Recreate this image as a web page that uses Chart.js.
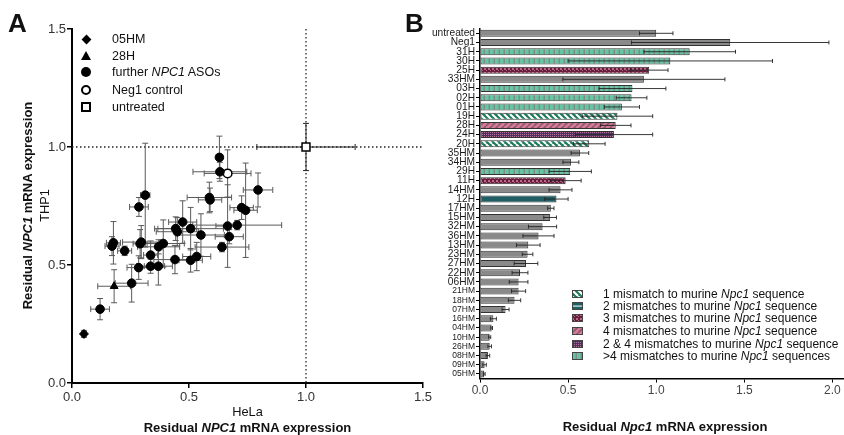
<!DOCTYPE html>
<html><head><meta charset="utf-8">
<script src="https://cdn.jsdelivr.net/npm/chart.js@4.4.0/dist/chart.umd.min.js"></script>
<style>
html,body{margin:0;padding:0;background:#fff;width:844px;height:435px;overflow:hidden;font-family:"Liberation Sans",Arial,sans-serif;}
#wrap{position:relative;width:844px;height:435px;}
canvas{position:absolute;}
.t{position:absolute;white-space:nowrap;color:#111;}
.sym{position:absolute;box-sizing:border-box;}
</style></head><body>
<div id="wrap">
<canvas id="chartA" width="440" height="435" style="left:0;top:0;width:440px;height:435px"></canvas>
<canvas id="chartB" width="424" height="435" style="left:420px;top:0;width:424px;height:435px"></canvas>

<div class="t" style="left:8px;top:10px;font:bold 26px/26px 'Liberation Sans',Arial;">A</div>
<div class="t" style="left:405px;top:10px;font:bold 26px/26px 'Liberation Sans',Arial;">B</div>

<!-- panel A legend -->
<div class="sym" style="left:83px;top:36px;width:7px;height:7px;background:#000;transform:rotate(45deg);"></div>
<div class="sym" style="left:81px;top:51px;width:0;height:0;border-left:5px solid transparent;border-right:5px solid transparent;border-bottom:9px solid #000;"></div>
<div class="sym" style="left:81px;top:67px;width:10px;height:10px;border-radius:50%;background:#000;"></div>
<div class="sym" style="left:81px;top:85px;width:10px;height:10px;border-radius:50%;border:2px solid #000;background:#fff;"></div>
<div class="sym" style="left:81px;top:102px;width:10px;height:10px;border:2px solid #000;background:#fff;"></div>
<div class="t" style="left:112px;top:33px;font:12.5px/12.5px 'Liberation Sans',Arial;">05HM</div>
<div class="t" style="left:112px;top:50px;font:12.5px/12.5px 'Liberation Sans',Arial;">28H</div>
<div class="t" style="left:112px;top:66px;font:12.5px/12.5px 'Liberation Sans',Arial;">further <i>NPC1</i> ASOs</div>
<div class="t" style="left:112px;top:83.6px;font:12.5px/12.5px 'Liberation Sans',Arial;">Neg1 control</div>
<div class="t" style="left:112px;top:101.2px;font:12.5px/12.5px 'Liberation Sans',Arial;">untreated</div>

<!-- panel A axis titles -->
<div class="t" style="left:147.5px;width:200px;text-align:center;top:405.8px;font:12.8px/12.8px 'Liberation Sans',Arial;">HeLa</div>
<div class="t" style="left:97.5px;width:300px;text-align:center;top:421.3px;font:bold 13px/13px 'Liberation Sans',Arial;">Residual <i>NPC1</i> mRNA expression</div>
<div class="t" style="left:-103px;width:260px;text-align:center;top:198.5px;font:bold 13px/13px 'Liberation Sans',Arial;transform:rotate(-90deg);">Residual <i>NPC1</i> mRNA expression</div>
<div class="t" style="left:-55.5px;width:200px;text-align:center;top:198.6px;font:12.8px/12.8px 'Liberation Sans',Arial;transform:rotate(-90deg);">THP1</div>

<!-- panel B axis title -->
<div class="t" style="left:515px;width:300px;text-align:center;top:419.7px;font:bold 13px/13px 'Liberation Sans',Arial;">Residual <i>Npc1</i> mRNA expression</div>

<!-- panel B legend -->
<canvas id="sw0" class="sw" width="11" height="8" style="left:572px;top:289.7px"></canvas>
<canvas id="sw1" class="sw" width="11" height="8" style="left:572px;top:302px"></canvas>
<canvas id="sw2" class="sw" width="11" height="8" style="left:572px;top:314px"></canvas>
<canvas id="sw3" class="sw" width="11" height="8" style="left:572px;top:327.3px"></canvas>
<canvas id="sw4" class="sw" width="11" height="8" style="left:572px;top:339.7px"></canvas>
<canvas id="sw5" class="sw" width="11" height="8" style="left:572px;top:352px"></canvas>
<div class="t" style="left:603px;top:287.8px;font:12px/12px 'Liberation Sans',Arial;">1 mismatch to murine <i>Npc1</i> sequence</div>
<div class="t" style="left:603px;top:300.1px;font:12px/12px 'Liberation Sans',Arial;">2 mismatches to murine <i>Npc1</i> sequence</div>
<div class="t" style="left:603px;top:312.1px;font:12px/12px 'Liberation Sans',Arial;">3 mismatches to murine <i>Npc1</i> sequence</div>
<div class="t" style="left:603px;top:325.4px;font:12px/12px 'Liberation Sans',Arial;">4 mismatches to murine <i>Npc1</i> sequence</div>
<div class="t" style="left:603px;top:337.8px;font:12px/12px 'Liberation Sans',Arial;">2 &amp; 4 mismatches to murine <i>Npc1</i> sequence</div>
<div class="t" style="left:603px;top:350.1px;font:12px/12px 'Liberation Sans',Arial;">&gt;4 mismatches to murine <i>Npc1</i> sequences</div>
</div>
<script>
// ---------- Panel A data ----------
const aTicks = [0, 0.5, 1.0, 1.5];
const asoHela   = [0.630,0.632,0.795,0.587,0.590,0.725,0.742,0.665,0.706,0.672,0.641,0.551,0.507,0.473,0.443,0.450,0.533,0.507,0.440,0.369,0.336,0.336,0.285,0.370,0.390,0.296,0.291,0.225,0.177,0.171,0.255,0.120,0.286,0.313];
const asoThp1   = [0.956,0.895,0.818,0.786,0.776,0.743,0.732,0.665,0.669,0.620,0.576,0.627,0.654,0.682,0.654,0.641,0.536,0.520,0.523,0.495,0.495,0.542,0.489,0.577,0.591,0.597,0.590,0.560,0.594,0.580,0.423,0.313,0.746,0.796];
const asoHelaSD = [0.012,0.115,0.063,0.095,0.050,0.050,0.050,0.050,0.190,0.060,0.115,0.100,0.140,0.060,0.090,0.090,0.060,0.050,0.090,0.060,0.060,0.030,0.050,0.090,0.090,0.080,0.030,0.030,0.030,0.030,0.070,0.040,0.040,0.020];
const asoThp1SD = [0.090,0.040,0.072,0.065,0.050,0.050,0.200,0.175,0.020,0.030,0.020,0.090,0.090,0.090,0.050,0.060,0.060,0.050,0.060,0.080,0.030,0.060,0.050,0.030,0.100,0.070,0.060,0.020,0.090,0.040,0.080,0.045,0.040,0.220];
const hm05 = [0.051, 0.208], hm05SD = [0.010, 0.015];
const h28  = [0.180, 0.410], h28SD  = [0.070, 0.070];
const neg1 = [0.665, 0.888], neg1SD = [0.100, 0.100];
const untr = [1.000, 1.000], untrSD = [0.210, 0.100];

// ---------- Panel B data ----------
const bTicks = [0, 0.5, 1.0, 1.5, 2.0];
const bLabels = ['untreated','Neg1','31H','30H','25H','33HM','03H','02H','01H','19H','28H','24H','20H','35HM','34HM','29H','11H','14HM','12H','17HM','15HM','32HM','36HM','13HM','23HM','27HM','22HM','06HM','21HM','18HM','07HM','16HM','04HM','10HM','26HM','08HM','09HM','05HM'];
const bMeans = [1.00,1.42,1.19,1.08,0.96,0.93,0.865,0.86,0.805,0.78,0.77,0.76,0.62,0.567,0.516,0.512,0.486,0.457,0.434,0.402,0.398,0.355,0.332,0.274,0.27,0.261,0.227,0.219,0.219,0.196,0.145,0.076,0.066,0.055,0.055,0.045,0.026,0.024];
const bSD    = [0.095,0.56,0.26,0.58,0.107,0.46,0.19,0.087,0.10,0.20,0.087,0.22,0.09,0.05,0.045,0.12,0.088,0.065,0.066,0.018,0.036,0.08,0.088,0.067,0.03,0.067,0.045,0.053,0.04,0.035,0.02,0.017,0.005,0.006,0.01,0.01,0.01,0.005];
const bGroup = ['none','none','gt4','gt4','mm3','none','gt4','gt4','gt4','mm1','mm4','mm24','mm1','none','none','gt4','mm3','none','mm2','none','none','none','none','none','none','none','none','none','none','none','none','none','none','none','none','none','none','none'];
const legendGroups = ['mm1','mm2','mm3','mm4','mm24','gt4'];

const FONT = "'Liberation Sans', Arial, sans-serif";

// ---------- patterns ----------
function tile(w,h,draw){const c=document.createElement('canvas');c.width=w;c.height=h;const g=c.getContext('2d');draw(g,w,h);return c;}
const tiles = {
  mm1: tile(6,6,(g)=>{g.fillStyle='#1f7b5d';g.fillRect(0,0,6,6);g.strokeStyle='#ffffff';g.lineWidth=2;g.beginPath();
        for(const o of [-6,0,6]){g.moveTo(o,0);g.lineTo(o+6,6);} g.stroke();}),
  mm4: tile(6,6,(g)=>{g.fillStyle='#d77a99';g.fillRect(0,0,6,6);g.strokeStyle='#8a5a6a';g.lineWidth=1.6;g.beginPath();
        for(const o of [-6,0,6]){g.moveTo(o,6);g.lineTo(o+6,0);} g.stroke();}),
  mm3: tile(4,4,(g)=>{g.fillStyle='#6a1c3c';g.fillRect(0,0,4,4);g.fillStyle='#b86a88';g.fillRect(0,0,2,2);g.fillRect(2,2,1,1);}),
  mm24: tile(2,2,(g)=>{g.fillStyle='#4a3262';g.fillRect(0,0,2,2);g.fillStyle='#b8709a';g.fillRect(0,0,1,1);}),
  gt4: tile(5,4,(g)=>{g.fillStyle='#66c6a4';g.fillRect(0,0,5,4);g.fillStyle='#7d8c86';g.fillRect(3.5,0,1.5,4);}),
  mm2: tile(2,2,(g)=>{g.fillStyle='#1e5f64';g.fillRect(0,0,2,2);}),
  none: tile(2,2,(g)=>{g.fillStyle='#8a8a8a';g.fillRect(0,0,2,2);})
};
const ctxB = document.getElementById('chartB').getContext('2d');
const fills = {};
for (const k in tiles) fills[k] = k==='none' ? '#8a8a8a' : (k==='mm2' ? '#1e5f64' : ctxB.createPattern(tiles[k],'repeat'));

// legend swatches
legendGroups.forEach((g,i)=>{
  const c=document.getElementById('sw'+i), x=c.getContext('2d');
  x.fillStyle = x.createPattern(tiles[g],'repeat'); x.fillRect(0,0,11,8);
  if(g==='mm2'){x.fillStyle='#d8f0ea';x.fillRect(1,3.5,9,1.2);}
  x.strokeStyle='#444'; x.lineWidth=1; x.strokeRect(0.5,0.5,10,7);
});

// ---------- Panel A ----------
function pts(xs,ys){return xs.map((v,i)=>({x:v,y:ys[i]}));}
const errA = {
  id:'errA',
  beforeDatasetsDraw(chart){
    const {ctx, chartArea:ca, scales:{x,y}} = chart;
    ctx.save();
    ctx.setLineDash([1.5,2.5]); ctx.strokeStyle='#222'; ctx.lineWidth=1.3;
    const x1=x.getPixelForValue(1), y1=y.getPixelForValue(1);
    ctx.beginPath(); ctx.moveTo(x1,ca.top); ctx.lineTo(x1,ca.bottom); ctx.moveTo(ca.left,y1); ctx.lineTo(ca.right,y1); ctx.stroke();
    ctx.setLineDash([]);
    chart.data.datasets.forEach(ds=>{
      ctx.strokeStyle = ds.errColor || '#5a5a5a'; ctx.lineWidth=1;
      ds.data.forEach((p,i)=>{
        const ex=ds.errX[i], ey=ds.errY[i];
        const px=x.getPixelForValue(p.x), py=y.getPixelForValue(p.y);
        const xl=x.getPixelForValue(p.x-ex), xr=x.getPixelForValue(p.x+ex);
        const yt=y.getPixelForValue(p.y+ey), yb=y.getPixelForValue(p.y-ey);
        ctx.beginPath();
        ctx.moveTo(xl,py); ctx.lineTo(xr,py);
        ctx.moveTo(xl,py-3); ctx.lineTo(xl,py+3); ctx.moveTo(xr,py-3); ctx.lineTo(xr,py+3);
        ctx.moveTo(px,yt); ctx.lineTo(px,yb);
        ctx.moveTo(px-3,yt); ctx.lineTo(px+3,yt); ctx.moveTo(px-3,yb); ctx.lineTo(px+3,yb);
        ctx.stroke();
      });
    });
    ctx.restore();
  }
};
new Chart(document.getElementById('chartA'), {
  type:'scatter',
  data:{datasets:[
    {label:'further NPC1 ASOs', data:pts(asoHela,asoThp1), errX:asoHelaSD, errY:asoThp1SD, pointStyle:'circle', radius:4.3, backgroundColor:'#000', borderColor:'#000', borderWidth:1},
    {label:'28H', data:[{x:h28[0],y:h28[1]}], errX:[h28SD[0]], errY:[h28SD[1]], pointStyle:'triangle', radius:4.5, backgroundColor:'#000', borderColor:'#000'},
    {label:'05HM', data:[{x:hm05[0],y:hm05[1]}], errX:[hm05SD[0]], errY:[hm05SD[1]], pointStyle:'rectRot', radius:4.5, backgroundColor:'#000', borderColor:'#000'},
    {label:'Neg1 control', data:[{x:neg1[0],y:neg1[1]}], errX:[neg1SD[0]], errY:[neg1SD[1]], pointStyle:'circle', radius:4.3, backgroundColor:'#fff', borderColor:'#000', borderWidth:1.5},
    {label:'untreated', data:[{x:untr[0],y:untr[1]}], errX:[untrSD[0]], errY:[untrSD[1]], errColor:'#222', pointStyle:'rect', radius:5.6, backgroundColor:'#fff', borderColor:'#000', borderWidth:1.5}
  ]},
  options:{
    responsive:false, animation:false, events:[],
    layout:{padding:{left:0,top:29,right:17,bottom:0}},
    plugins:{legend:{display:false}, tooltip:{enabled:false}},
    scales:{
      x:{type:'linear', min:0, max:1.5,
         afterBuildTicks:s=>{s.ticks=aTicks.map(v=>({value:v}));},
         afterFit:s=>{s.height=52;},
         grid:{display:true, drawOnChartArea:false, drawTicks:true, tickLength:5, color:'#000', lineWidth:1.5},
         border:{display:true, color:'#000', width:2},
         ticks:{callback:v=>Number(v).toFixed(1), color:'#333', padding:2, font:{family:FONT,size:13}, maxRotation:0}},
      y:{type:'linear', min:0, max:1.5,
         afterBuildTicks:s=>{s.ticks=aTicks.map(v=>({value:v}));},
         afterFit:s=>{s.width=72;},
         grid:{display:true, drawOnChartArea:false, drawTicks:true, tickLength:5, color:'#000', lineWidth:1.5},
         border:{display:true, color:'#000', width:2},
         ticks:{callback:v=>Number(v).toFixed(1), color:'#333', padding:1, font:{family:FONT,size:13}}}
    }
  },
  plugins:[errA]
});

// ---------- Panel B ----------
const errB = {
  id:'errB',
  afterDatasetsDraw(chart){
    const {ctx, scales:{x}} = chart;
    const meta = chart.getDatasetMeta(0);
    ctx.save(); ctx.strokeStyle='#222'; ctx.lineWidth=0.9;
    meta.data.forEach((el,i)=>{
      const m=bMeans[i], s=bSD[i];
      const xl=x.getPixelForValue(Math.max(0,m-s)), xr=x.getPixelForValue(m+s), yy=el.y;
      ctx.beginPath(); ctx.moveTo(xl,yy); ctx.lineTo(xr,yy);
      ctx.moveTo(xl,yy-2); ctx.lineTo(xl,yy+2); ctx.moveTo(xr,yy-2); ctx.lineTo(xr,yy+2);
      ctx.stroke();
    });
    ctx.restore();
  }
};
new Chart(document.getElementById('chartB'), {
  type:'bar',
  data:{labels:bLabels, datasets:[{
    data:bMeans,
    backgroundColor:c=>fills[bGroup[c.dataIndex]],
    borderColor:'#333', borderWidth:1, borderSkipped:false,
    categoryPercentage:1, barPercentage:0.76
  }]},
  options:{
    indexAxis:'y', responsive:false, animation:false, events:[],
    layout:{padding:{left:0,top:28.7,right:1,bottom:0}},
    plugins:{legend:{display:false}, tooltip:{enabled:false}},
    scales:{
      x:{type:'linear', min:0, max:2.06,
         afterBuildTicks:s=>{s.ticks=bTicks.map(v=>({value:v}));},
         afterFit:s=>{s.height=56.4;},
         grid:{display:true, drawOnChartArea:false, drawTicks:true, tickLength:4, color:'#000', lineWidth:1},
         border:{display:true, color:'#000', width:1.5},
         ticks:{callback:v=>Number(v).toFixed(1), color:'#444', padding:1, font:{family:FONT,size:12}, maxRotation:0}},
      y:{type:'category',
         afterFit:s=>{s.width=60;},
         grid:{display:true, offset:false, drawOnChartArea:false, drawTicks:true, tickLength:4, color:'#000', lineWidth:1},
         border:{display:true, color:'#000', width:1.5},
         ticks:{color:'#1a1a1a', padding:1, autoSkip:false,
                font:c=>({family:FONT, size: c.index>=28 ? 8.5 : 10.2})}}
    }
  },
  plugins:[errB]
});
</script>
</body></html>
